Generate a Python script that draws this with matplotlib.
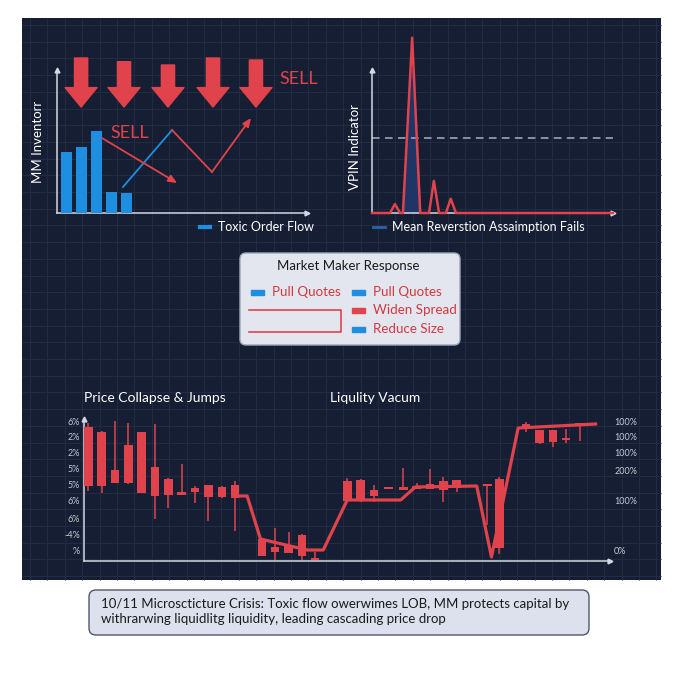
import matplotlib.pyplot as plt
import matplotlib.patches as mpatches
import numpy as np

plt.rcParams["font.family"] = ["Lato", "DejaVu Sans"]

# ---- data -------------------------------------------------------------
inv_x = [0, 1, 2, 3, 4]
inv_vals = [43, 46, 57, 15, 14]

sell_x = [1.0, 3.85, 6.77, 9.76, 12.61]
sell_top = [108.4, 105.8, 103.5, 108.4, 107.0]
sell_tip = 74.1

flow_red1_x = [2.39, 7.37]
flow_red1_y = [52.4, 21.0]
flow_blue_x = [3.78, 7.04]
flow_blue_y = [18.2, 58.0]
flow_red2_x = [7.04, 9.69, 12.28]
flow_red2_y = [58.0, 28.7, 66.4]

vpin_t = [0, 4.5, 5.7, 7, 7.7, 10, 12, 14.2, 15.4, 16.7, 18.4, 19.6, 20.9, 60]
vpin = [0, 0, 0.05, 0, 0, 0.98, 0, 0, 0.18, 0, 0, 0.08, 0, 0]
vpin_threshold = 0.42

candle_x = [0, 1, 2, 3, 4, 5, 6, 7, 8, 9, 10, 11,
            13, 14, 15, 16, 17,
            19.4, 20.4, 21.4, 22.5, 23.6, 24.6, 25.6, 26.6, 27.6,
            29.9, 30.8, 32.8, 33.8, 34.8, 35.8, 36.8]
candle_open = [134.3, 129.3, 90.7, 116, 128.7, 93.7, 82.3, 68.7, 73, 75.7, 73.7, 75.7,
               22, 13.7, 15.3, 25.7, 2.7,
               80, 81, 71, 73, 74.3, 75, 77.3, 80.3, 81,
               77, 81.7, 136.7, 131, 131, 122.7, 138.3]
candle_close = [75.3, 75.3, 77.7, 78.3, 67.7, 65, 65.7, 65.7, 68.7, 63.7, 63.7, 63,
                5.3, 9.3, 8.3, 5.3, 1,
                60, 60.3, 65.3, 72, 71, 72, 72.3, 71, 73.3,
                74.7, 13.3, 131.7, 118.3, 118.7, 120.7, 135]
candle_high = [138.3, 130.3, 140.3, 138.3, 128.7, 137, 83.3, 97, 74.7, 76, 74.7, 80,
               22, 32.7, 29.3, 26.7, 9.3,
               83.3, 82, 75.7, 73, 93.3, 77.7, 91.7, 84.3, 81,
               77, 84.3, 139.3, 131, 131, 131.7, 138.3]
candle_low = [70, 68.3, 77.7, 77, 67.7, 41.7, 53, 65.7, 57.7, 40.3, 62.7, 30.3,
              5.3, 1, 8.3, 1, 1,
              60, 59, 59.3, 72, 71, 72, 72.3, 58.7, 68.7,
              36, 6.7, 129.3, 116.7, 113.7, 117.7, 120]

price_line_x = [11.3, 11.9, 12.9, 16.4, 17.6, 19.4, 23.4, 24.5, 29.1, 30.2, 32.2, 38.0]
price_line_y = [65, 65, 22, 11, 11, 61, 61, 74, 75, 4, 133, 137]

left_tick_pos = [139, 124, 108, 92, 76, 60, 43, 27, 11]
left_tick_lbl = ["6%", "2%", "2%", "5%", "5%", "6%", "6%", "-4%", "%"]
right_tick_pos = [139, 124, 108, 90, 60, 11]
right_tick_lbl = ["100%", "100%", "100%", "200%", "100%", "0%"]

mm_items_left = ["Pull Quotes"]
mm_items_right = ["Pull Quotes", "Widen Spread", "Reduce Size"]
mm_colors_right = ["#1e8fe0", "#e0434b", "#1e8fe0"]

caption = ["10/11 Microscticture Crisis: Toxic flow owerwimes LOB, MM protects capital by",
           "withrarwing liquidlitg liquidity, leading cascading price drop"]

# ---- style -------------------------------------------------------------
NAVY = "#161e33"
GRIDC = "#222b44"
RED = "#e0434b"
BLUE = "#1e8fe0"
AXC = "#d4d8e2"
W, H = 680, 680

fig = plt.figure(figsize=(6.8, 6.8), dpi=100)
fig.patch.set_facecolor("white")

bg = fig.add_axes([0, 0, 1, 1])
bg.set_xlim(0, W)
bg.set_ylim(H, 0)
bg.axis("off")

# dark panel with fine grid
bg.add_patch(mpatches.Rectangle((22, 18), 639, 562, facecolor=NAVY, edgecolor="none", zorder=0))
bg.vlines(np.arange(30, 661, 17.4), 18, 580, color=GRIDC, lw=0.8, zorder=0.5)
bg.hlines(np.arange(25, 580, 16.7), 22, 661, color=GRIDC, lw=0.8, zorder=0.5)


def px_axes(x0, y0, x1, y1):
    ax = fig.add_axes([x0 / W, 1 - y1 / H, (x1 - x0) / W, (y1 - y0) / H])
    ax.patch.set_alpha(0)
    for s in ["top", "right"]:
        ax.spines[s].set_visible(False)
    for s in ["left", "bottom"]:
        ax.spines[s].set_color(AXC)
        ax.spines[s].set_linewidth(1.1)
    ax.set_xticks([])
    ax.set_yticks([])
    ax.plot(1, 0, ">", color=AXC, ms=3.5, transform=ax.transAxes, clip_on=False)
    ax.plot(0, 1, "^", color=AXC, ms=3.5, transform=ax.transAxes, clip_on=False)
    return ax


# ---- MM inventory panel ----------------------------------------------
ax1 = px_axes(57, 70, 307, 213)
ax1.set_xlim(-0.6, 16)
ax1.set_ylim(0, 100)
ax1.bar(inv_x, inv_vals, width=0.73, color=BLUE, zorder=3)
for x, top in zip(sell_x, sell_top):
    ax1.annotate("", xy=(x, sell_tip), xytext=(x, top), annotation_clip=False,
                 arrowprops=dict(arrowstyle="simple,head_length=1.4,head_width=2.3,tail_width=0.95",
                                 mutation_scale=10, color=RED, shrinkA=0, shrinkB=0))
ax1.text(14.2, 93.7, "SELL", color=RED, fontsize=13, va="center", clip_on=False)
ax1.text(2.92, 56, "SELL", color=RED, fontsize=13, va="center", clip_on=False)
ax1.annotate("", xy=(flow_red1_x[1], flow_red1_y[1]), xytext=(flow_red1_x[0], flow_red1_y[0]),
             arrowprops=dict(arrowstyle="-|>,head_length=0.5,head_width=0.22", color=RED, lw=1.3,
                             shrinkA=0, shrinkB=0))
ax1.plot(flow_blue_x, flow_blue_y, color=BLUE, lw=1.3)
ax1.plot(flow_red2_x[:2], flow_red2_y[:2], color=RED, lw=1.3)
ax1.annotate("", xy=(flow_red2_x[2], flow_red2_y[2]), xytext=(flow_red2_x[1], flow_red2_y[1]),
             arrowprops=dict(arrowstyle="-|>,head_length=0.5,head_width=0.22", color=RED, lw=1.3,
                             shrinkA=0, shrinkB=0))
ax1.set_ylabel("MM Inventorr", color="white", fontsize=9.5)
ax1.yaxis.set_label_coords(-0.052, 0.5)

bg.plot([200, 210], [227, 227], color=BLUE, lw=3)
bg.text(218, 227, "Toxic Order Flow", color="white", fontsize=9, va="center")

# ---- VPIN panel --------------------------------------------------------
ax2 = px_axes(372, 70, 613, 213)
ax2.set_xlim(0, 60)
ax2.set_ylim(0, 0.8)
ax2.fill_between(vpin_t[4:7], vpin[4:7], color="#1f3566", zorder=2)
ax2.plot(vpin_t, vpin, color=RED, lw=1.8, clip_on=False, zorder=3)
ax2.axhline(vpin_threshold, color="#a9afbd", lw=1.1, ls=(0, (5, 3.5)))
ax2.set_ylabel("VPIN Indicator", color="white", fontsize=9.5)
ax2.yaxis.set_label_coords(-0.046, 0.46)

bg.plot([373, 385], [227, 227], color="#2a64a8", lw=2)
bg.text(392, 227, "Mean Reverstion Assaimption Fails", color="white", fontsize=9, va="center")

# ---- Market maker response box -----------------------------------------
bg.add_patch(mpatches.FancyBboxPatch((240, 253), 220, 92, boxstyle="round,pad=0,rounding_size=6",
                                     facecolor="#e3e6ee", edgecolor="#9ea6b9", lw=1, zorder=2))
bg.text(348, 266, "Market Maker Response", color="#1a1a1a", fontsize=9.5, ha="center", va="center",
        zorder=4)
bg.add_patch(mpatches.Rectangle((251, 289.5), 13, 5, color=BLUE, zorder=4))
bg.text(272, 292, mm_items_left[0], color="#d2383f", fontsize=9.6, va="center", zorder=4)
for i, (item, c) in enumerate(zip(mm_items_right, mm_colors_right)):
    y = 292 + i * 18.5
    bg.add_patch(mpatches.Rectangle((352, y - 2.5), 13, 5, color=c, zorder=4))
    bg.text(373, y, item, color="#d2383f", fontsize=9.6, va="center", zorder=4)
bg.plot([249, 341, 341, 249], [310, 310, 332, 332], color=RED, lw=1.2, zorder=4)

# ---- price collapse panel ----------------------------------------------
bg.text(84, 398, "Price Collapse & Jumps", color="white", fontsize=10, va="center")
bg.text(330, 398, "Liqulity Vacum", color="white", fontsize=10, va="center")

ax3 = px_axes(84, 419, 610, 561)
ax3.set_xlim(-0.32, 39.08)
ax3.set_ylim(0, 142)
ax3.plot(price_line_x, price_line_y, color=RED, lw=2.3, zorder=2)
for x, o, c, hi, lo in zip(candle_x, candle_open, candle_close, candle_high, candle_low):
    ax3.vlines(x, lo, hi, color=RED, lw=1.1, zorder=3)
    ax3.bar(x, max(o - c, 1.6), bottom=min(o, c), width=0.64, color=RED, zorder=3)
ax3.set_yticks(left_tick_pos)
ax3.set_yticklabels(left_tick_lbl)
ax3.tick_params(axis="y", length=0, pad=3, labelsize=6.5, labelcolor="#c6cad4")

axr = ax3.twinx()
axr.set_ylim(0, 142)
for s in axr.spines.values():
    s.set_visible(False)
axr.set_yticks(right_tick_pos)
axr.set_yticklabels(right_tick_lbl)
axr.tick_params(axis="y", length=0, pad=3, labelsize=6.5, labelcolor="#c6cad4")

# ---- caption box -------------------------------------------------------
bg.add_patch(mpatches.FancyBboxPatch((89, 590), 500, 45, boxstyle="round,pad=0,rounding_size=7",
                                     facecolor="#dde1ee", edgecolor="#50566a", lw=1, zorder=2))
bg.text(101, 604, caption[0], color="#1a1a1a", fontsize=9.5, va="center", zorder=4)
bg.text(101, 619, caption[1], color="#1a1a1a", fontsize=9.5, va="center", zorder=4)

fig.savefig("out.png", dpi=100, facecolor="white")
